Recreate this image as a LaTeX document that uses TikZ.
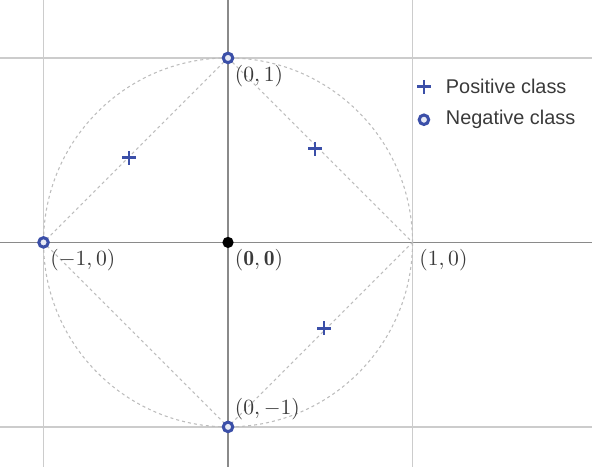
\documentclass[tikz,border=0pt]{standalone}
\usepackage{amsmath,amssymb}
\usepackage{fontspec}
\setsansfont{Liberation Sans}
\usepackage{xcolor}
\usepackage{tikz}
\usetikzlibrary{positioning}
\definecolor{cMark}{HTML}{3B4FA8}
\definecolor{cGrid}{HTML}{CCCCCC}
\definecolor{cAxis}{HTML}{8A8A8A}
\definecolor{cDash}{HTML}{BDBDBD}
\definecolor{cText}{HTML}{3A3A3A}
\tikzset{
  gridline/.style={draw=cGrid, line width=0.7pt},
  axisline/.style={draw=cAxis, line width=0.7pt},
  guide/.style   ={draw=cDash, line width=0.5pt, dash pattern=on 1.4pt off 1.4pt},
  posmark/.style ={minimum size=6.4pt, inner sep=0pt,
                   path picture={\draw[cMark, line width=1.3pt]
                     (path picture bounding box.north) -- (path picture bounding box.south)
                     (path picture bounding box.west) -- (path picture bounding box.east);}},
  negmark/.style ={draw=cMark, circle, fill=cMark!12, minimum size=4.4pt, inner sep=0pt, line width=1.4pt},
  origin/.style  ={fill=black, circle, minimum size=5.2pt, inner sep=0pt},
  lbl/.style     ={text=cText, inner sep=1pt, font=\normalsize},
  legtext/.style ={text=cText, font=\sffamily\fontsize{9.2}{11}\selectfont, inner sep=0pt},
}

\begin{document}
\begin{tikzpicture}[x=3cm, y=3cm]
        \useasboundingbox (-1.236,-1.216) rectangle (1.973,1.314);
        % grid and axes
        \draw[gridline] (-1,-1.216) -- (-1,1.314);
        \draw[gridline] (1,-1.216) -- (1,1.314);
        \draw[gridline] (-1.236,1) -- (1.973,1);
        \draw[gridline] (-1.236,-1) -- (1.973,-1);
        \draw[axisline] (0,-1.216) -- (0,1.314);
        \draw[axisline] (-1.236,0) -- (1.973,0);
        % points
        \coordinate (n) at (0,1);
        \coordinate (w) at (-1,0);
        \coordinate (s) at (0,-1);
        \coordinate (e) at (1,0);
        \draw[guide] (0,0) circle[radius=1];
        \draw[guide] (n)--(e)--(s)--(w)--cycle;
        \node[negmark] (nn) at (n){};
        \node[negmark] (nw) at (w){};
        \node[negmark] (ns) at (s){};
        \node[origin]  (o) at (0,0){};
        \node[posmark] (p1) at (-0.537,0.459){};
        \node[posmark] (p2) at (0.472,0.508){};
        \node[posmark] (p3) at (0.520,-0.465){};
        % labels
        \node[lbl, anchor=north west] at ([shift={(2pt,-2pt)}]n){$(0,1)$};
        \node[lbl, anchor=north west] at ([shift={(2pt,-2pt)}]w){$(-1,0)$};
        \node[lbl, anchor=north west] at ([shift={(2pt,-2pt)}]o.center){$\mathbf{(0,0)}$};
        \node[lbl, anchor=north west] at ([shift={(2pt,-2pt)}]e){$(1,0)$};
        \node[lbl, anchor=south west] at ([shift={(2pt,2pt)}]s){$(0,-1)$};
        % legend
        \node[posmark] (lp) at (1.062,0.843){};
        \node[negmark] (ln) at (1.062,0.665){};
        \node[legtext, right=10pt of lp.center, anchor=west]{Positive class};
        \node[legtext, right=10pt of ln.center, anchor=west]{Negative class};
      \end{tikzpicture}
\end{document}
